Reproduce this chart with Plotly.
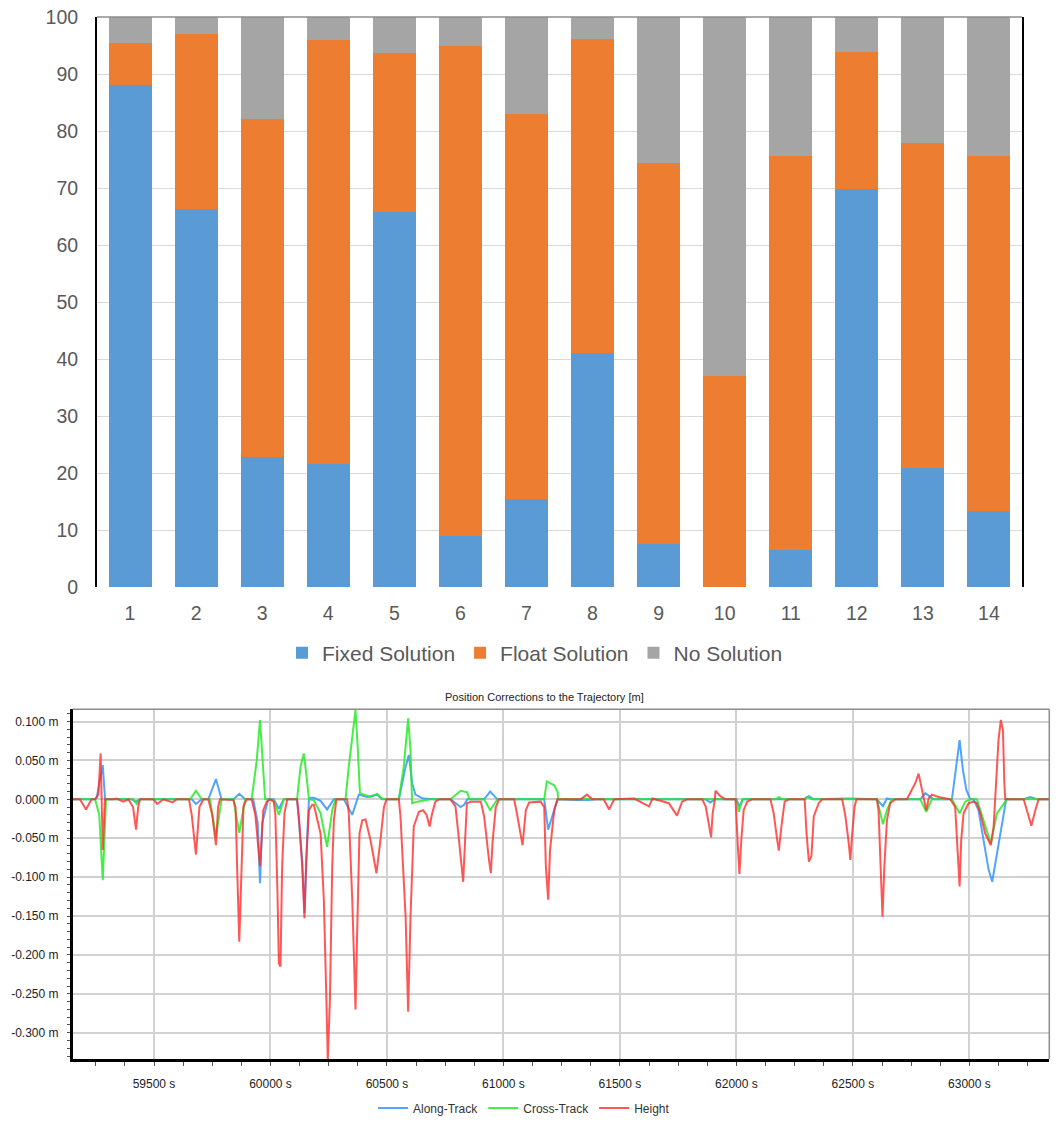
import plotly.graph_objects as go

# ---------------- Top chart data (percent of epochs) ----------------
categories = [str(i) for i in range(1, 15)]
fixed_solution = [88.0, 66.3, 22.8, 21.5, 65.8, 8.9, 15.5, 41.1, 7.5, 0.0, 6.5, 69.8, 20.8, 13.3]
float_solution = [7.4, 30.7, 59.3, 74.5, 27.8, 86.0, 67.5, 55.0, 66.9, 37.0, 69.2, 24.1, 57.1, 62.4]
no_solution = [4.6, 3.0, 17.9, 4.0, 6.4, 5.1, 17.0, 3.9, 25.6, 63.0, 24.3, 6.1, 22.1, 24.3]

# ---------------- Bottom chart data (time [s], correction [m]) ----------------
t_along = [59151, 59247, 59254, 59266, 59280, 59290, 59404, 59423, 59440, 59662, 59680, 59705,
           59733, 59766, 59790, 59841, 59866, 59891, 59926, 59945, 59955, 59965, 59990, 60014,
           60036, 60057, 60114, 60136, 60146, 60157, 60165, 60172, 60186, 60215, 60243, 60272,
           60315, 60351, 60379, 60415, 60458, 60479, 60551, 60580, 60594, 60608, 60622, 60655,
           60701, 60773, 60816, 60831, 60845, 60917, 60943, 60974, 61175, 61192, 61232, 61303,
           61368, 61400, 61868, 61888, 61907, 62000, 62013, 62027, 62290, 62311, 62332, 62480,
           62603, 62629, 62646, 62660, 62789, 62811, 62832, 62846, 62925, 62944, 62958, 62972,
           62987, 63004, 63018, 63039, 63061, 63082, 63098, 63118, 63140, 63158, 63233, 63261,
           63290, 63344]
v_along = [0, 0, 0.002, 0.02, 0.044, 0, 0, -0.003, 0, 0, -0.006, 0,
           0, 0.026, 0, 0, 0.007, 0, 0, -0.03, -0.108, -0.03, 0, 0,
           -0.012, 0, 0, -0.078, -0.146, -0.052, 0, 0.002, 0.002, -0.002, -0.013, 0,
           0, -0.02, 0.006, 0.003, 0.006, 0, 0, 0.042, 0.057, 0.021, 0.006, 0.001,
           0, 0, -0.01, -0.007, 0, 0, 0.01, 0, 0, -0.039, 0, -0.001,
           -0.001, 0, 0, -0.004, 0, 0, -0.009, 0, 0, 0.004, 0, 0.001,
           0, -0.009, 0.001, 0, 0, 0.008, 0.003, 0, 0, 0.042, 0.076, 0.038,
           0.012, 0, 0, -0.014, -0.052, -0.09, -0.106, -0.069, -0.034, 0, 0, 0.003,
           0, 0]

t_cross = [59151, 59247, 59265, 59280, 59294, 59411, 59426, 59440, 59655, 59680, 59705, 59740,
           59766, 59790, 59841, 59866, 59891, 59919, 59941, 59955, 59977, 59993, 60014, 60036,
           60057, 60114, 60129, 60143, 60155, 60165, 60186, 60215, 60243, 60265, 60279, 60322,
           60336, 60358, 60365, 60375, 60384, 60429, 60458, 60479, 60498, 60551, 60572, 60591,
           60601, 60608, 60630, 60687, 60773, 60816, 60845, 60853, 60917, 60943, 60974, 61175,
           61186, 61218, 61232, 61235, 61332, 61340, 61400, 62000, 62010, 62027, 62170, 62182,
           62196, 62290, 62303, 62325, 62603, 62629, 62646, 62667, 62789, 62815, 62839, 62925,
           62958, 62982, 63004, 63032, 63061, 63092, 63118, 63147, 63161, 63344]
v_cross = [0, 0, -0.02, -0.104, 0, 0, -0.006, 0, 0, 0.011, 0, 0,
           -0.048, 0, 0, -0.043, 0, 0, 0.05, 0.102, 0, 0, -0.001, -0.02,
           0, 0, 0.042, 0.059, 0.029, 0, -0.001, -0.018, -0.061, -0.014, 0, 0,
           0.042, 0.093, 0.115, 0.063, 0.008, 0.003, 0.007, 0.001, 0, 0, 0.042, 0.104,
           0.063, -0.005, -0.003, 0, 0, 0.011, 0.009, 0, 0, -0.014, 0, 0,
           0.023, 0.018, 0.01, 0, 0, 0.001, 0, 0, -0.016, 0, 0, 0.003,
           0, 0, 0.003, 0, 0, -0.032, -0.014, 0, 0, -0.016, 0, 0,
           -0.018, -0.003, 0, 0, -0.027, -0.057, -0.018, -0.005, 0, 0]

t_height = [59151, 59182, 59208, 59232, 59247, 59261, 59271, 59280, 59290, 59325, 59340, 59368,
            59390, 59410, 59423, 59432, 59440, 59497, 59514, 59540, 59580, 59597, 59650, 59662,
            59680, 59695, 59712, 59733, 59750, 59766, 59775, 59783, 59841, 59850, 59858, 59862,
            59866, 59870, 59884, 59898, 59919, 59935, 59948, 59955, 59962, 59969, 59984, 59998,
            60014, 60021, 60030, 60036, 60043, 60050, 60060, 60072, 60114, 60122, 60136, 60146,
            60153, 60165, 60179, 60186, 60215, 60229, 60240, 60246, 60255, 60265, 60272, 60283,
            60329, 60336, 60351, 60365, 60372, 60382, 60394, 60408, 60429, 60455, 60472, 60487,
            60498, 60551, 60558, 60580, 60591, 60601, 60615, 60637, 60655, 60670, 60683, 60694,
            60708, 60723, 60773, 60794, 60809, 60827, 60843, 60860, 60903, 60917, 60938, 60946,
            60953, 60967, 60981, 61046, 61060, 61082, 61096, 61110, 61160, 61175, 61182, 61192,
            61200, 61218, 61232, 61332, 61358, 61382, 61430, 61454, 61475, 61561, 61625, 61640,
            61710, 61745, 61767, 61788,
            61853, 61868, 61881, 61891, 61898, 61907, 61910, 61931, 61953, 61996, 62007, 62013,
            62021, 62031, 62046, 62067, 62146, 62160, 62175, 62182, 62193, 62207, 62225, 62293,
            62301, 62311, 62322, 62332, 62353, 62368, 62454, 62468, 62482, 62489, 62497, 62507,
            62515, 62603, 62610, 62620, 62627, 62635, 62646, 62660, 62682, 62732, 62746, 62768,
            62782, 62796, 62815, 62825, 62839, 62868, 62918, 62939, 62949, 62958, 62965, 62975,
            62997, 63018, 63032, 63047, 63068, 63092, 63104, 63115, 63125, 63135, 63144, 63150,
            63154, 63233, 63247, 63266, 63283, 63297, 63344]
v_height = [0, 0, -0.013, 0, 0, 0.006, 0.059, -0.065, 0, 0, 0.001, -0.003,
            0, -0.01, -0.039, -0.01, 0, 0, -0.006, 0, -0.004, 0, 0, -0.02,
            -0.071, -0.01, 0, 0, -0.02, -0.059, -0.01, 0, -0.001, -0.01, -0.1, -0.146,
            -0.183, -0.146, -0.009, 0, 0, -0.02, -0.07, -0.086, -0.05, -0.014, -0.003, 0,
            -0.003, -0.02, -0.12, -0.211, -0.215, -0.086, -0.018, 0, 0, -0.022, -0.086, -0.153,
            -0.082, -0.014, -0.007, -0.007, -0.044, -0.129, -0.258, -0.335, -0.258, -0.086, -0.027, 0,
            0, -0.018, -0.129, -0.27, -0.172, -0.044, -0.027, -0.026, -0.052, -0.095, -0.052, -0.01,
            0, 0, -0.022, -0.151, -0.273, -0.151, -0.035, -0.016, -0.014, -0.02, -0.035, -0.018,
            -0.003, 0, 0, -0.009, -0.052, -0.106, -0.005, -0.003, -0.003, -0.022, -0.078, -0.095,
            -0.056, -0.01, 0, 0, -0.022, -0.059, -0.014, -0.004, -0.003, -0.01, -0.086, -0.129,
            -0.065, -0.014, 0, 0, 0.006, 0, 0, -0.013, 0, 0.001, -0.009, 0.001,
            -0.005, -0.021, -0.003, 0,
            0, -0.009, -0.031, -0.049, -0.018, -0.001, 0.011, 0.004, 0, 0, -0.065, -0.096,
            -0.052, -0.014, -0.003, 0, 0, -0.018, -0.052, -0.066, -0.035, -0.003, 0, 0,
            -0.044, -0.08, -0.073, -0.022, -0.005, 0, 0, -0.022, -0.056, -0.078, -0.044, -0.01,
            0, 0, -0.014, -0.086, -0.151, -0.086, -0.027, -0.005, 0, 0, 0.008, 0.021,
            0.033, 0.014, -0.014, 0.001, 0.006, 0.003, 0, -0.01, -0.065, -0.112, -0.052, -0.018,
            -0.005, -0.003, -0.005, -0.018, -0.044, -0.059, -0.035, 0.021, 0.076, 0.102, 0.089, 0.021,
            0, 0, -0.014, -0.034, -0.014, 0, 0]

assert len(t_along) == len(v_along)
assert len(t_cross) == len(v_cross)
assert len(t_height) == len(v_height)

y2_ticks = [-0.30, -0.25, -0.20, -0.15, -0.10, -0.05, 0.0, 0.05, 0.10]
y2_ticktext = [f"{v:.3f} m".replace("-0.000", "0.000") for v in y2_ticks]

W, H = 1058, 1126
FONT = "Liberation Sans, Arial, sans-serif"

fig = go.Figure()

# Top stacked bars
fig.add_trace(go.Bar(x=categories, y=fixed_solution, name="Fixed Solution",
                     marker=dict(color="#5B9BD5", line=dict(width=0)),
                     xaxis="x", yaxis="y", legend="legend"))
fig.add_trace(go.Bar(x=categories, y=float_solution, name="Float Solution",
                     marker=dict(color="#ED7D31", line=dict(width=0)),
                     xaxis="x", yaxis="y", legend="legend"))
fig.add_trace(go.Bar(x=categories, y=no_solution, name="No Solution",
                     marker=dict(color="#A5A5A5", line=dict(width=0)),
                     xaxis="x", yaxis="y", legend="legend"))

# Bottom line chart
fig.add_trace(go.Scatter(x=t_along, y=v_along, mode="lines", name="Along-Track",
                         line=dict(color="rgb(51,150,255)", width=2), opacity=0.85,
                         xaxis="x2", yaxis="y2", legend="legend2"))
fig.add_trace(go.Scatter(x=t_cross, y=v_cross, mode="lines", name="Cross-Track",
                         line=dict(color="rgb(40,235,40)", width=2), opacity=0.85,
                         xaxis="x2", yaxis="y2", legend="legend2"))
fig.add_trace(go.Scatter(x=t_height, y=v_height, mode="lines", name="Height",
                         line=dict(color="rgb(255,45,45)", width=2), opacity=0.8,
                         xaxis="x2", yaxis="y2", legend="legend2"))

top_x = [97 / W, 1022 / W]
top_y = [1 - 587 / H, 1 - 17 / H]
bot_x = [72.7 / W, 1049.3 / W]
bot_y = [1 - 1059 / H, 1 - 709.3 / H]

fig.update_layout(
    width=W, height=H,
    margin=dict(l=0, r=0, t=0, b=0, autoexpand=False),
    paper_bgcolor="white", plot_bgcolor="white",
    font=dict(family=FONT),
    barmode="stack", bargap=0.35,
    xaxis=dict(domain=top_x, anchor="y", type="category", showgrid=False,
               showline=False, zeroline=False, ticks="",
               tickfont=dict(size=19.5, color="#595959"), ticklabelstandoff=12),
    yaxis=dict(domain=top_y, anchor="x", range=[0, 100], dtick=10,
               showgrid=True, gridcolor="#D9D9D9", gridwidth=1.3,
               showline=True, linecolor="black", linewidth=2, mirror=True,
               zeroline=False, ticks="",
               tickfont=dict(size=19.5, color="#595959"), ticklabelstandoff=13),
    xaxis2=dict(domain=bot_x, anchor="y2", range=[59151, 63343], tick0=0, dtick=500,
                tickformat="d", ticksuffix=" s",
                showgrid=True, gridcolor="#D2D2D2", gridwidth=1.5,
                showline=True, linecolor="black", linewidth=2.5, zeroline=False,
                ticks="outside", ticklen=4, tickcolor="#555555", tickwidth=1,
                minor=dict(dtick=125, tick0=0, ticks="outside", ticklen=4,
                           tickcolor="#555555", showgrid=False),
                tickfont=dict(size=12, color="#222222"), ticklabelstandoff=8),
    yaxis2=dict(domain=bot_y, anchor="x2", range=[-0.3338, 0.1157],
                tickmode="array", tickvals=y2_ticks, ticktext=y2_ticktext,
                showgrid=True, gridcolor="#D2D2D2", gridwidth=1.5,
                showline=True, linecolor="black", linewidth=2.5, zeroline=False,
                ticks="outside", ticklen=3, tickcolor="#555555",
                minor=dict(dtick=0.01, tick0=0, ticks="outside", ticklen=3,
                           tickcolor="#555555", showgrid=False),
                tickfont=dict(size=12, color="#222222"), ticklabelstandoff=6),
    legend=dict(orientation="h", x=535 / W, xanchor="center",
                y=1 - 653 / H, yanchor="middle",
                font=dict(size=21, color="#595959"), traceorder="normal",
                bgcolor="rgba(0,0,0,0)"),
    legend2=dict(orientation="h", x=524 / W, xanchor="center",
                 y=1 - 1108 / H, yanchor="middle",
                 font=dict(size=12, color="#333333"), traceorder="normal",
                 bgcolor="rgba(0,0,0,0)"),
    annotations=[dict(text="Position Corrections to the Trajectory [m]",
                      x=544 / W, y=1 - 697 / H, xref="paper", yref="paper",
                      xanchor="center", yanchor="middle", showarrow=False,
                      font=dict(size=11, color="#222222"))],
    shapes=[
        dict(type="line", xref="x domain", yref="y domain", x0=0, x1=1, y0=1, y1=1,
             line=dict(color="#8C8C8C", width=1.5)),
        dict(type="line", xref="x2 domain", yref="y2 domain", x0=0, x1=1, y0=1, y1=1,
             line=dict(color="#8C8C8C", width=1.5)),
        dict(type="line", xref="x2 domain", yref="y2 domain", x0=1, x1=1, y0=0, y1=1,
             line=dict(color="#8C8C8C", width=1.5)),
    ],
)

fig.write_html("out.html")
